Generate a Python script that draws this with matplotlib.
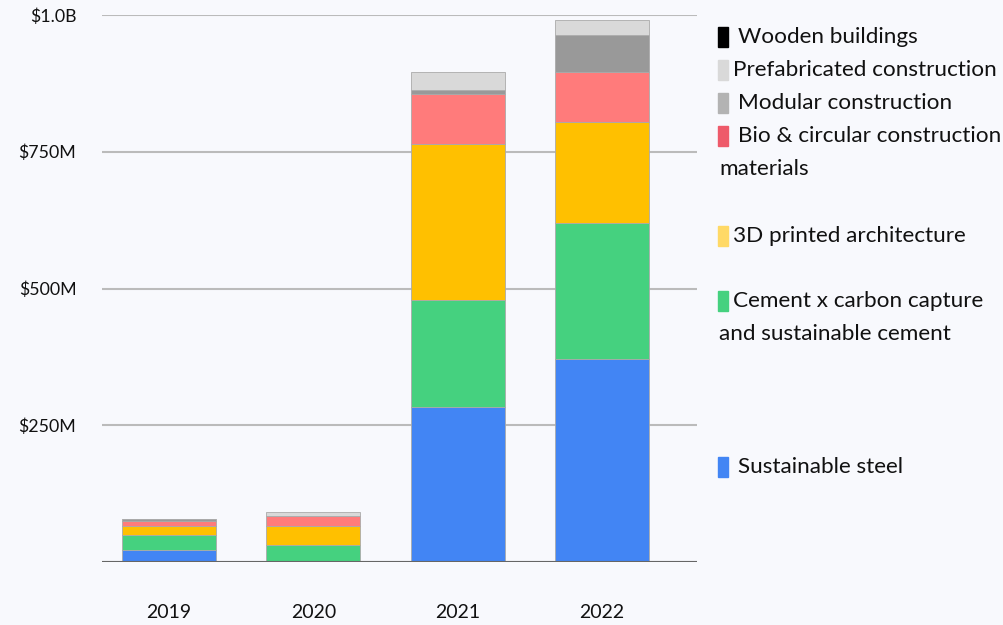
import numpy as np
import matplotlib.pyplot as plt
from matplotlib.patches import Rectangle

years = ['2019', '2020', '2021', '2022']
# values in $M
steel = [22, 0, 284, 371]
cement = [27, 31, 195, 249]
printed_3d = [17, 35, 286, 184]
bio = [9, 18, 90, 92]
modular = [3, 0, 8, 68]
prefab = [0, 8, 32, 27]
wooden = [0, 0, 0, 0]

series = [steel, cement, printed_3d, bio, modular, prefab, wooden]
bar_colors = ['#4285f4', '#45d17f', '#ffc000', '#ff7b7b', '#999999', '#d9d9d9', '#000000']

legend_rows = [
    ('Wooden buildings', '#000000', 37, 738),
    ('Prefabricated construction', '#d9d9d9', 70, 733),
    ('Modular construction', '#b3b3b3', 103, 738),
    ('Bio & circular construction', '#ee5a6a', 136, 738),
    ('3D printed architecture', '#ffd966', 236, 733),
    ('Cement x carbon capture', '#45d17f', 301, 733),
    ('Sustainable steel', '#4285f4', 467, 738),
]
extra_lines = [('materials', 169), ('and sustainable cement', 334)]

plt.rcParams['font.family'] = ['Lato', 'DejaVu Sans']
bg = '#f8f9fd'
W, H = 1004, 625
fig = plt.figure(figsize=(W / 100, H / 100), dpi=100, facecolor=bg)
ax = fig.add_axes([102 / W, 1 - 562 / H, 595 / W, 547 / H], facecolor=bg)

x = np.arange(len(years))
bottom = np.zeros(len(years))
for vals, c in zip(series, bar_colors):
    v = np.array(vals, dtype=float)
    ax.bar(x, v, width=0.65, bottom=bottom, color=c, edgecolor='#aaaaaa',
           linewidth=0.6 if c != '#000000' else 0, zorder=3)
    bottom += v

ax.set_xlim(-0.464, 3.657)
ax.set_ylim(0, 1000)
ax.set_yticks([0, 250, 500, 750, 1000])
ax.set_yticklabels(['', '$250M', '$500M', '$750M', '$1.0B'])
ax.yaxis.grid(True, color='#bbbbbb', linewidth=1.5, zorder=0)
ax.axhline(0, color='#666666', linewidth=1.5, zorder=4)
ax.tick_params(axis='y', length=0, pad=18.5, labelsize=12.8, labelcolor='#111111')
ax.tick_params(axis='x', length=0, pad=30, labelsize=14, labelcolor='#111111')
ax.set_xticks(x)
ax.set_xticklabels(years)
for s in ax.spines.values():
    s.set_visible(False)

for label, c, y, tx in legend_rows:
    fig.patches.append(Rectangle((718 / W, 1 - (y + 10) / H), 10 / W, 20 / H,
                                 transform=fig.transFigure, color=c))
    fig.text(tx / W, 1 - y / H, label, fontsize=16.2, va='center', ha='left', color='#111111')
for label, y in extra_lines:
    fig.text(719 / W, 1 - y / H, label, fontsize=16.2, va='center', ha='left', color='#111111')

fig.savefig('out.png', dpi=100, facecolor=bg)
